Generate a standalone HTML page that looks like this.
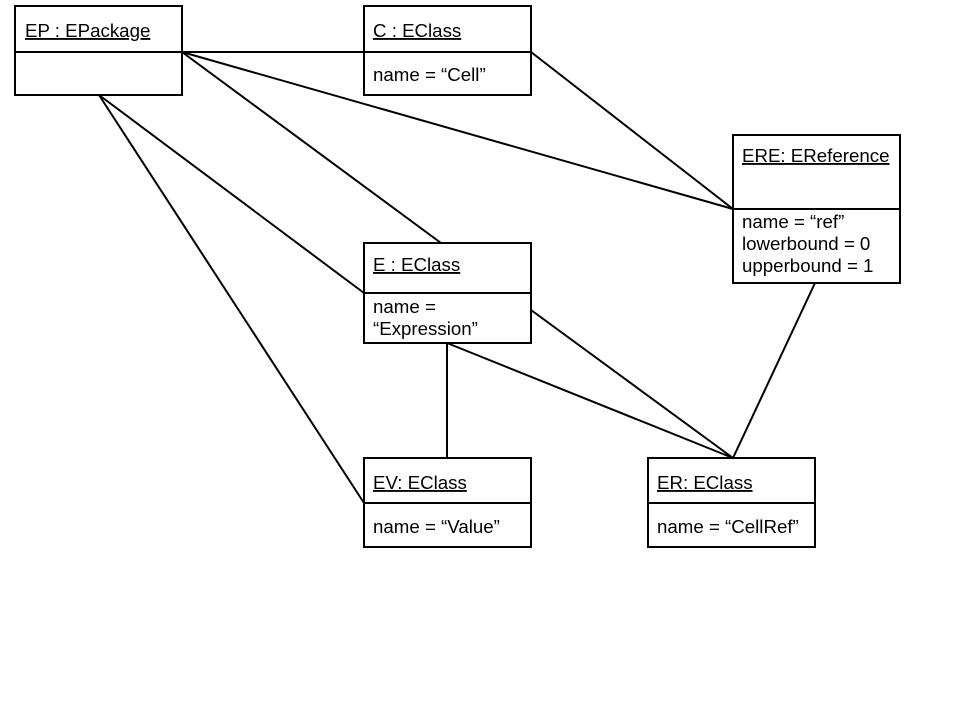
<!DOCTYPE html>
<html><head><meta charset="utf-8"><style>
html,body{margin:0;padding:0;background:#fff;}
svg{display:block;}
text{font-family:"Liberation Sans",Arial,sans-serif;font-size:18.7px;fill:#000;}
</style></head><body>
<svg width="960" height="720" viewBox="0 0 960 720" xmlns="http://www.w3.org/2000/svg">
<g stroke="#000" stroke-width="2" fill="none">
<line x1="182" y1="52" x2="364" y2="52"/>
<line x1="182" y1="52" x2="733" y2="209"/>
<line x1="182" y1="52" x2="441" y2="243"/>
<line x1="99" y1="95" x2="364" y2="293"/>
<line x1="99" y1="95" x2="364" y2="503"/>
<line x1="531" y1="52" x2="733" y2="209"/>
<line x1="447" y1="343" x2="447" y2="458"/>
<line x1="531" y1="310" x2="733" y2="458"/>
<line x1="447" y1="343" x2="733" y2="458"/>
<line x1="815" y1="283" x2="733" y2="458"/>
</g>
<g stroke="#000" stroke-width="2" fill="#fff">
<rect x="15" y="6" width="167" height="89"/><line x1="15" y1="52" x2="182" y2="52"/>
<rect x="364" y="6" width="167" height="89"/><line x1="364" y1="52" x2="531" y2="52"/>
<rect x="733" y="135" width="167" height="148"/><line x1="733" y1="209" x2="900" y2="209"/>
<rect x="364" y="243" width="167" height="100"/><line x1="364" y1="293" x2="531" y2="293"/>
<rect x="364" y="458" width="167" height="89"/><line x1="364" y1="503" x2="531" y2="503"/>
<rect x="648" y="458" width="167" height="89"/><line x1="648" y1="503" x2="815" y2="503"/>
</g>
<text x="25" y="37" text-decoration="underline">EP : EPackage</text>
<text x="373" y="37" text-decoration="underline">C : EClass</text>
<text x="373" y="81">name = “Cell”</text>
<text x="742" y="162" text-decoration="underline">ERE: EReference</text>
<text x="742" y="228">name = “ref”</text>
<text x="742" y="250">lowerbound = 0</text>
<text x="742" y="272">upperbound = 1</text>
<text x="373" y="271" text-decoration="underline">E : EClass</text>
<text x="373" y="313">name =</text>
<text x="373" y="335">“Expression”</text>
<text x="373" y="489" text-decoration="underline">EV: EClass</text>
<text x="373" y="533">name = “Value”</text>
<text x="657" y="489" text-decoration="underline">ER: EClass</text>
<text x="657" y="533">name = “CellRef”</text>
</svg>
</body></html>
